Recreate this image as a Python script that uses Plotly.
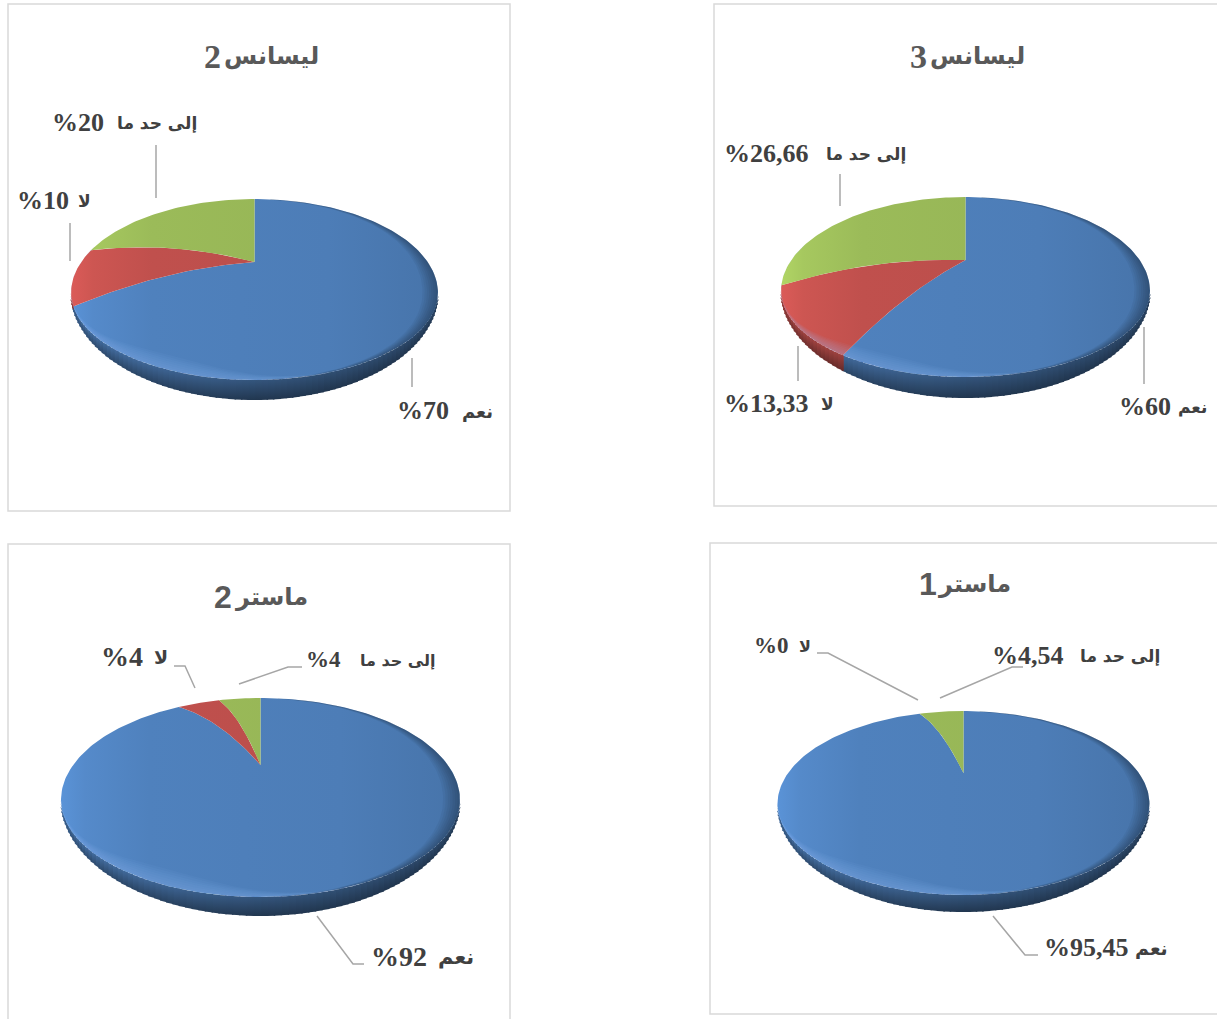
import numpy as np
import plotly.graph_objects as go

# ---------- data ----------
panel_titles = ["ليسانس", "ليسانس", "ماستر", "ماستر"]
panel_numbers = ["2", "3", "2", "1"]
categories = ["نعم", "لا", "إلى حد ما"]
licence2_values = [70, 10, 20]
licence3_values = [60, 13.33, 26.66]
master2_values = [92, 4, 4]
master1_values = [95.45, 0, 4.54]
licence2_texts = ["%70", "%10", "%20"]
licence3_texts = ["%60", "%13,33", "%26,66"]
master2_texts = ["%92", "%4", "%4"]
master1_texts = ["%95,45", "%0", "%4,54"]
panel_values = [licence2_values, licence3_values, master2_values, master1_values]
panel_texts = [licence2_texts, licence3_texts, master2_texts, master1_texts]

# ---------- layout / style ----------
BASE = [(0x4f, 0x81, 0xbd), (0xc0, 0x50, 0x4d), (0x9b, 0xbb, 0x59)]
W, H = 1217, 1019
FRAMES = [(8, 4, 510, 511), (714, 4, 1222, 506), (8, 544, 510, 1030), (710, 543, 1222, 1014)]
# cx, cy of rim ellipse, rx, upper ry, lower ry of top face, lower ry of silhouette, apex y
GEOM = [(254.5, 293, 183.5, 94, 87, 107, 262),
        (965.5, 291, 184.5, 94, 86, 107, 260),
        (260.5, 800, 199.5, 102, 97, 116, 765),
        (963.5, 804, 186, 93, 91, 108, 773)]
# left edge of the number, right edge of the word, y centre
TITLE_POS = [(203, 320, 56), (909, 1026, 56), (213, 309, 597), (918, 1012, 584)]
TITLE_DIGIT = [("Liberation Serif", 34), ("Liberation Serif", 34),
               ("Liberation Sans", 32), ("Liberation Sans", 32)]
LABEL_POS = [[(396, 494, 410), (16, 92, 200), (51, 198, 122)],
             [(1118, 1208, 406), (723, 835, 403), (723, 907, 153)],
             [(370, 475, 956), (100, 169, 656), (305, 437, 659)],
             [(1043, 1169, 947), (753, 812, 645), (991, 1161, 655)]]
LABEL_SIZE = [[26, 26, 26], [26, 26, 26], [28, 28, 23], [26, 23, 26]]
WORD_SIZE = [[18, 17, 17], [17, 17, 17], [21, 19, 16], [19, 16, 17]]
LEADERS = [[[(412, 358), (412, 387)], [(70, 223), (70, 261)], [(156, 145), (156, 198)]],
           [[(1144, 327), (1144, 384)], [(798, 346), (798, 381)], [(840, 174), (840, 206)]],
           [[(317, 916), (353, 964), (364, 964)], [(195, 688), (185, 666), (174, 666)],
            [(239, 684), (288, 667), (302, 667)]],
           [[(993, 916), (1025, 955), (1038, 955)], [(918, 700), (828, 653), (817, 653)],
            [(940, 698), (1012, 667), (1023, 667)]]]
SKEW = np.radians(9.5)


def rgb(c, f=1.0):
    return "rgb(%d,%d,%d)" % tuple(int(min(255, round(x * f))) for x in c)


def phi_of(theta):
    return theta - SKEW * np.sin(theta)


def rim_y(phi, ey, up, low):
    c = np.cos(phi)
    return ey - c * np.where(c > 0, up, low)


def spoke(theta, g, n=30):
    cx, ey, rx, up, low, _, ay = g
    t = np.linspace(0, 1, n)
    p = phi_of(theta)
    c = np.cos(p)
    x = cx + rx * t * np.sin(p)
    y = ay + (ey - ay) * t ** 2 - t * c * (up if c > 0 else low)
    return x, y


fig = go.Figure()


def add_poly(x, y, gradient=None, fillcolor=None):
    kw = dict(fillgradient=gradient) if gradient else dict(fillcolor=fillcolor)
    fig.add_trace(go.Scatter(x=list(x), y=list(y), mode="lines", fill="toself",
                             line=dict(width=0), hoverinfo="skip", showlegend=False, **kw))


def crescents(g, colour, phi0, sigma, width, xk, yk, steps, span):
    """Nested translucent bands hugging the rim of the top face."""
    cx, ey, rx, up, low, _, _ = g
    ph = np.radians(np.linspace(span[0], span[1], 90))
    for k in range(1, steps + 1):
        w = width * k / steps * np.exp(-((np.degrees(ph) - phi0) / sigma) ** 2)
        ox = cx + rx * np.sin(ph)
        oy = rim_y(ph, ey, up, low)
        c = np.cos(ph)
        ry = np.where(c > 0, up, low)
        ix = cx + rx * (1 - xk * w) * np.sin(ph)
        iy = ey - ry * (1 - yk * w) * c
        add_poly(np.concatenate([ox, ix[::-1]]), np.concatenate([oy, iy[::-1]]), fillcolor=colour)


for values, g in zip(panel_values, GEOM):
    cx, ey, rx, up, low, out, ay = g
    total = sum(values)
    edges = np.concatenate([[0], np.cumsum(values)]) / total * 2 * np.pi

    # rim: narrow strips along the front half of the disc
    th_grid = np.linspace(0, 2 * np.pi, 2000)
    ph_grid = phi_of(th_grid)
    phis = np.radians(np.arange(90, 270.01, 2.0))
    extra = [phi_of(e) for e in edges if np.pi / 2 < phi_of(e) < 1.5 * np.pi]
    phis = np.unique(np.concatenate([phis, extra]))
    for a, b in zip(phis[:-1], phis[1:]):
        mid = np.interp((a + b) / 2, ph_grid, th_grid)
        idx = min(int(np.searchsorted(edges, mid, side="right")) - 1, 2)
        u = np.sin((a + b) / 2)
        xa, xb = cx + rx * np.sin(a), cx + rx * np.sin(b)
        ta, tb = ey - low * np.cos(a), ey - low * np.cos(b)
        ba, bb = ey - out * np.cos(a), ey - out * np.cos(b)
        left = max(-u, 0)
        right = max(u, 0)
        f_top = 0.66 + 0.26 * left - 0.12 * right
        f_bot = 0.42 + 0.16 * left - 0.04 * right
        y0, y1 = min(ta, tb), max(ba, bb)
        add_poly([xa + 0.8, xb - 0.8, xb - 0.8, xa + 0.8], [ta, tb, bb, ba],
                 dict(type="vertical", start=y0, stop=y1,
                      colorscale=[[0, rgb(BASE[idx], f_top)], [1, rgb(BASE[idx], f_bot)]]))

    # top face
    for i, v in enumerate(values):
        if v <= 0:
            continue
        x1, y1 = spoke(edges[i], g)
        x2, y2 = spoke(edges[i + 1], g)
        arc_t = np.linspace(edges[i], edges[i + 1], max(int(v * 3), 8))
        arc_p = phi_of(arc_t)
        ax = cx + rx * np.sin(arc_p)
        ayy = rim_y(arc_p, ey, up, low)
        add_poly(np.concatenate([x1, ax, x2[::-1]]), np.concatenate([y1, ayy, y2[::-1]]),
                 dict(type="horizontal", start=cx - rx, stop=cx + rx,
                      colorscale=[[0, rgb(BASE[i], 1.14)], [0.06, rgb(BASE[i], 1.07)],
                                  [0.22, rgb(BASE[i], 1.0)], [0.7, rgb(BASE[i], 0.97)],
                                  [1, rgb(BASE[i], 0.90)]]))

    # bevel: dark toward the right edge, light along the lower left edge
    crescents(g, "rgba(0,0,0,0.045)", 92, 60, 0.085, 1.0, 0.5, 7, (5, 178))
    crescents(g, "rgba(150,200,255,0.05)", 212, 32, 0.18, 0.35, 1.0, 7, (135, 300))

shapes = []
for x0, y0, x1, y1 in FRAMES:
    shapes.append(dict(type="rect", xref="x", yref="y", x0=x0, y0=y0, x1=x1, y1=y1,
                       line=dict(color="#d9d9d9", width=1.5), layer="below"))
for group in LEADERS:
    for pts in group:
        d = "M " + " L ".join("%g,%g" % p for p in pts)
        shapes.append(dict(type="path", xref="x", yref="y", path=d,
                           line=dict(color="#a6a6a6", width=1.5)))


def note(text, x, y, anchor, family, size, colour):
    return dict(x=x, y=y, xref="x", yref="y", text=text, showarrow=False, borderpad=0,
                xanchor=anchor, yanchor="middle",
                font=dict(family=family, size=size, color=colour, weight="bold"))


annotations = []
for title, num, (fam, dsize), (xl, xr, y) in zip(panel_titles, panel_numbers, TITLE_DIGIT, TITLE_POS):
    annotations.append(note(num, xl, y, "left", fam, dsize, "#595959"))
    annotations.append(note(title, xr, y, "right", "DejaVu Sans", 24, "#595959"))
for texts, positions, sizes, words in zip(panel_texts, LABEL_POS, LABEL_SIZE, WORD_SIZE):
    for cat, txt, (xl, xr, y), size, wsize in zip(categories, texts, positions, sizes, words):
        annotations.append(note(txt, xl, y, "left", "Liberation Serif", size, "#404040"))
        annotations.append(note(cat, xr, y + 1, "right", "DejaVu Sans", wsize, "#404040"))

fig.update_layout(width=W, height=H, margin=dict(l=0, r=0, t=0, b=0),
                  paper_bgcolor="white", plot_bgcolor="white", showlegend=False,
                  xaxis=dict(range=[0, W], visible=False, fixedrange=True),
                  yaxis=dict(range=[H, 0], visible=False, fixedrange=True),
                  shapes=shapes, annotations=annotations)
fig.write_html("out.html", config=dict(displayModeBar=False),
               post_script="document.body.style.margin='0';document.body.style.overflow='hidden';")
